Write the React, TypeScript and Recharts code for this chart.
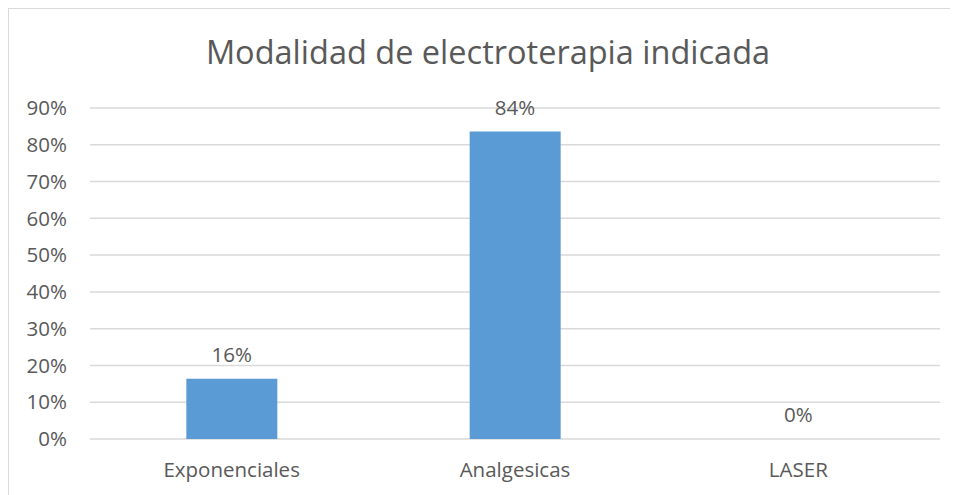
import { Bar, CartesianGrid, ComposedChart, LabelList, Line, XAxis, YAxis } from 'recharts';

const categories = ['Exponenciales', 'Analgesicas', 'LASER'];
const shares = [0.164, 0.836, 0];
const yTicks = [0, 0.1, 0.2, 0.3, 0.4, 0.5, 0.6, 0.7, 0.8, 0.9];

const data = categories.map((name, i) => ({ name, value: shares[i] }));

const textColor = '#595959';
const font = '"Open Sans", sans-serif';

const pct = (v: number) => `${Math.round(v * 100)}%`;

export default function App() {
  return (
    <div
      style={{
        position: 'relative',
        width: 950,
        height: 487,
        borderTop: '1px solid #d9d9d9',
        borderLeft: '1px solid #d9d9d9',
        fontFamily: font,
        background: '#fff',
      }}
    >
      <div
        style={{
          position: 'absolute',
          left: 0,
          width: 958,
          top: 27,
          textAlign: 'center',
          fontSize: 32.5,
          lineHeight: '32px',
          color: textColor,
        }}
      >
        Modalidad de electroterapia indicada
      </div>
      <ComposedChart
        width={949}
        height={486}
        data={data}
        margin={{ top: 99, right: 18, bottom: 0, left: 0 }}
        barCategoryGap="34%"
      >
        <CartesianGrid vertical={false} stroke="#d9d9d9" strokeWidth={1.5} />
        <XAxis
          dataKey="name"
          axisLine={false}
          tickLine={false}
          tickMargin={17}
          height={56}
          tick={{ fill: textColor, fontSize: 20.5, fontFamily: font }}
        />
        <YAxis
          domain={[0, 0.9]}
          ticks={yTicks}
          tickFormatter={pct}
          axisLine={false}
          tickLine={false}
          tickMargin={17}
          width={81}
          tick={{ fill: textColor, fontSize: 20.5, fontFamily: font }}
        />
        <Bar dataKey="value" fill="#5b9bd5" isAnimationActive={false} />
        {/* invisible line only carries the value labels, so the 0% one shows too */}
        <Line
          dataKey="value"
          stroke="none"
          dot={false}
          activeDot={false}
          isAnimationActive={false}
        >
          <LabelList
            dataKey="value"
            position="top"
            offset={17}
            formatter={(v: any) => pct(Number(v))}
            style={{ fill: textColor, fontSize: 20.5, fontFamily: font }}
          />
        </Line>
      </ComposedChart>
    </div>
  );
}
